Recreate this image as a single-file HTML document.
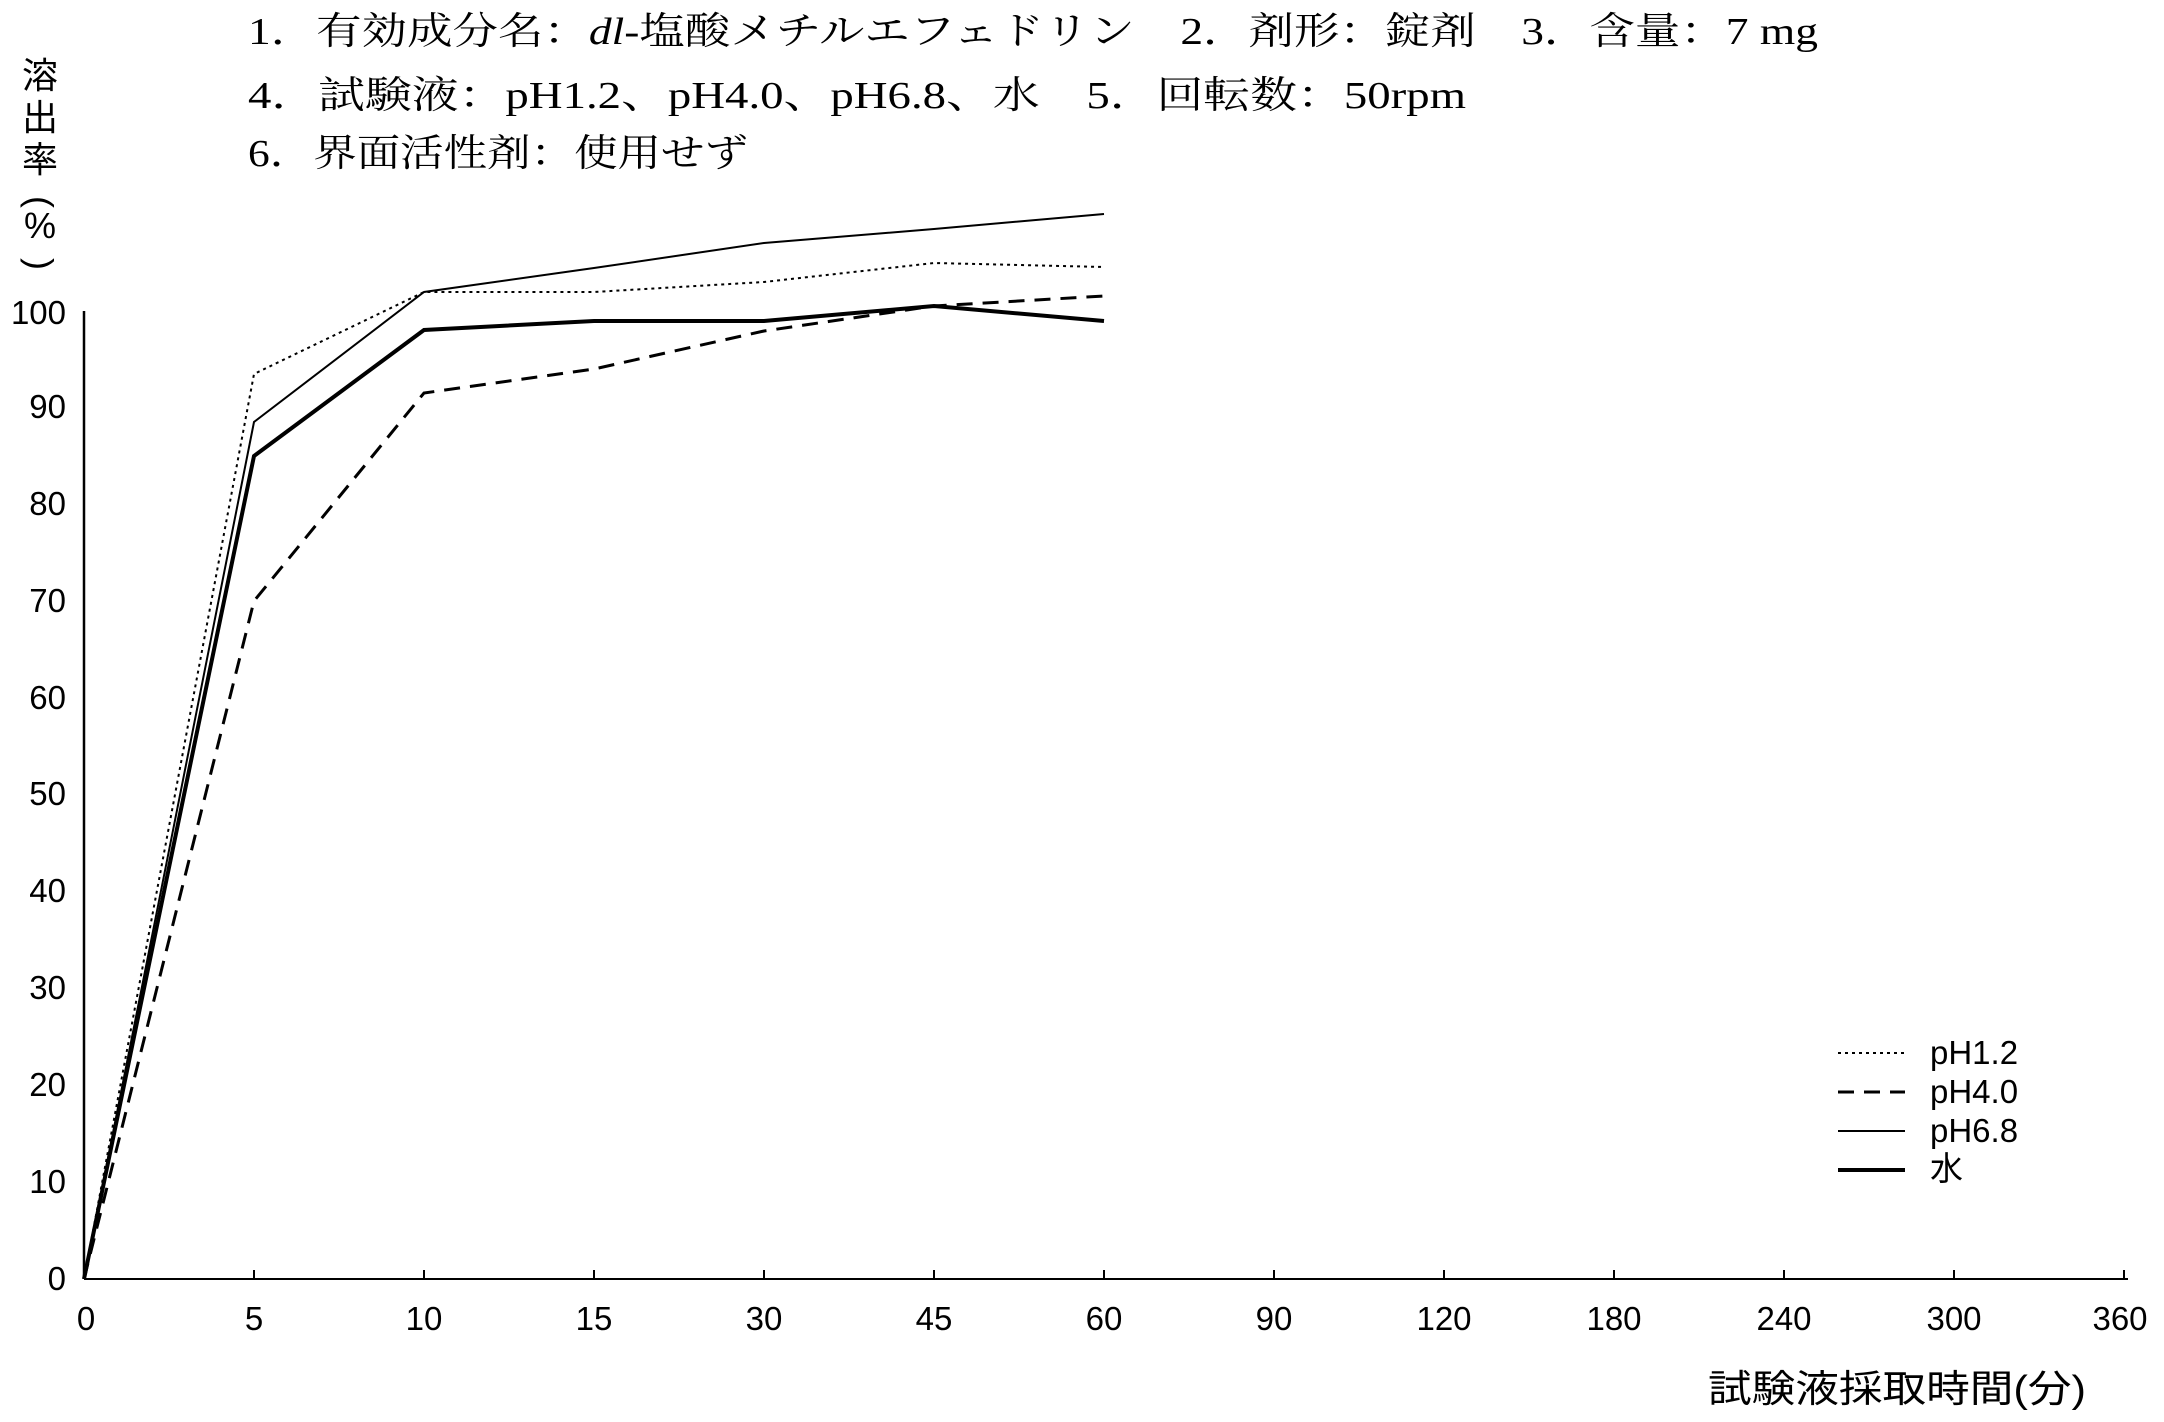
<!DOCTYPE html>
<html><head><meta charset="utf-8"><style>html,body{margin:0;padding:0;background:#fff}</style></head>
<body>
<svg width="2164" height="1417" viewBox="0 0 2164 1417" xmlns="http://www.w3.org/2000/svg">
<g font-family="Liberation Serif, Noto Serif CJK SC, serif" font-size="38" fill="#000">
<text x="248" y="44" textLength="1570" lengthAdjust="spacingAndGlyphs">1．有効成分名：<tspan font-style="italic">dl</tspan>-塩酸メチルエフェドリン　2．剤形：錠剤　3．含量：7 mg</text>
<text x="248" y="108" textLength="1218" lengthAdjust="spacingAndGlyphs">4．試験液：pH1.2、pH4.0、pH6.8、水　5．回転数：50rpm</text>
<text x="248" y="166" textLength="500" lengthAdjust="spacingAndGlyphs">6．界面活性剤：使用せず</text>
</g>
<g font-family="Liberation Sans, Noto Sans CJK JP, sans-serif" font-size="36" fill="#000" text-anchor="middle">
<text x="40" y="88">溶</text><text x="40" y="130">出</text><text x="40" y="172">率</text>
<text x="40" y="214" transform="rotate(90 40 202)">(</text>
<text x="40" y="238">%</text>
<text x="40" y="276" transform="rotate(90 40 264)">)</text>
</g>
<g stroke="#000" fill="none">
<line x1="84" y1="311" x2="84" y2="1279" stroke-width="2.5"/>
<line x1="84" y1="1279" x2="2128" y2="1279" stroke-width="2"/>
<g stroke-width="2">
<line x1="254" y1="1270" x2="254" y2="1279"/><line x1="424" y1="1270" x2="424" y2="1279"/><line x1="594" y1="1270" x2="594" y2="1279"/>
<line x1="764" y1="1270" x2="764" y2="1279"/><line x1="934" y1="1270" x2="934" y2="1279"/><line x1="1104" y1="1270" x2="1104" y2="1279"/>
<line x1="1274" y1="1270" x2="1274" y2="1279"/><line x1="1444" y1="1270" x2="1444" y2="1279"/><line x1="1614" y1="1270" x2="1614" y2="1279"/>
<line x1="1784" y1="1270" x2="1784" y2="1279"/><line x1="1954" y1="1270" x2="1954" y2="1279"/><line x1="2124" y1="1270" x2="2124" y2="1279"/>
</g>
<!-- pH1.2 dotted -->
<polyline stroke-width="2" stroke-dasharray="3,4" points="84,1279 254,374 424,292 594,292 764,282 934,263 1104,267"/>
<!-- pH4.0 dashed -->
<polyline stroke-width="3" stroke-dasharray="16,10" points="84,1279 254,601 424,393 594,369 764,331 934,306 1104,296"/>
<!-- pH6.8 thin -->
<polyline stroke-width="2" points="84,1279 254,422 424,292 594,268 764,243 934,229 1104,214"/>
<!-- water thick -->
<polyline stroke-width="4" points="84,1279 254,456 424,330 594,321 764,321 934,306 1104,321"/>
<!-- legend -->
<line x1="1838" y1="1053" x2="1905" y2="1053" stroke-width="2" stroke-dasharray="3,4"/>
<line x1="1838" y1="1092" x2="1905" y2="1092" stroke-width="3" stroke-dasharray="16,10"/>
<line x1="1838" y1="1131" x2="1905" y2="1131" stroke-width="2"/>
<line x1="1838" y1="1170" x2="1905" y2="1170" stroke-width="4"/>
</g>
<g font-family="Liberation Sans, Noto Sans CJK JP, sans-serif" font-size="33" fill="#000">
<g text-anchor="end">
<text x="66" y="324">100</text><text x="66" y="418">90</text><text x="66" y="515">80</text><text x="66" y="612">70</text>
<text x="66" y="709">60</text><text x="66" y="805">50</text><text x="66" y="902">40</text><text x="66" y="999">30</text>
<text x="66" y="1096">20</text><text x="66" y="1193">10</text><text x="66" y="1290">0</text>
</g>
<g text-anchor="middle">
<text x="86" y="1330">0</text><text x="254" y="1330">5</text><text x="424" y="1330">10</text><text x="594" y="1330">15</text>
<text x="764" y="1330">30</text><text x="934" y="1330">45</text><text x="1104" y="1330">60</text><text x="1274" y="1330">90</text>
<text x="1444" y="1330">120</text><text x="1614" y="1330">180</text><text x="1784" y="1330">240</text><text x="1954" y="1330">300</text>
<text x="2120" y="1330">360</text>
</g>
<text x="1930" y="1064">pH1.2</text>
<text x="1930" y="1103">pH4.0</text>
<text x="1930" y="1142">pH6.8</text>
<text x="1930" y="1180">水</text>
<text x="1708" y="1402" font-size="38" textLength="378" lengthAdjust="spacingAndGlyphs">試験液採取時間(分)</text>
</g>
</svg>
</body></html>
